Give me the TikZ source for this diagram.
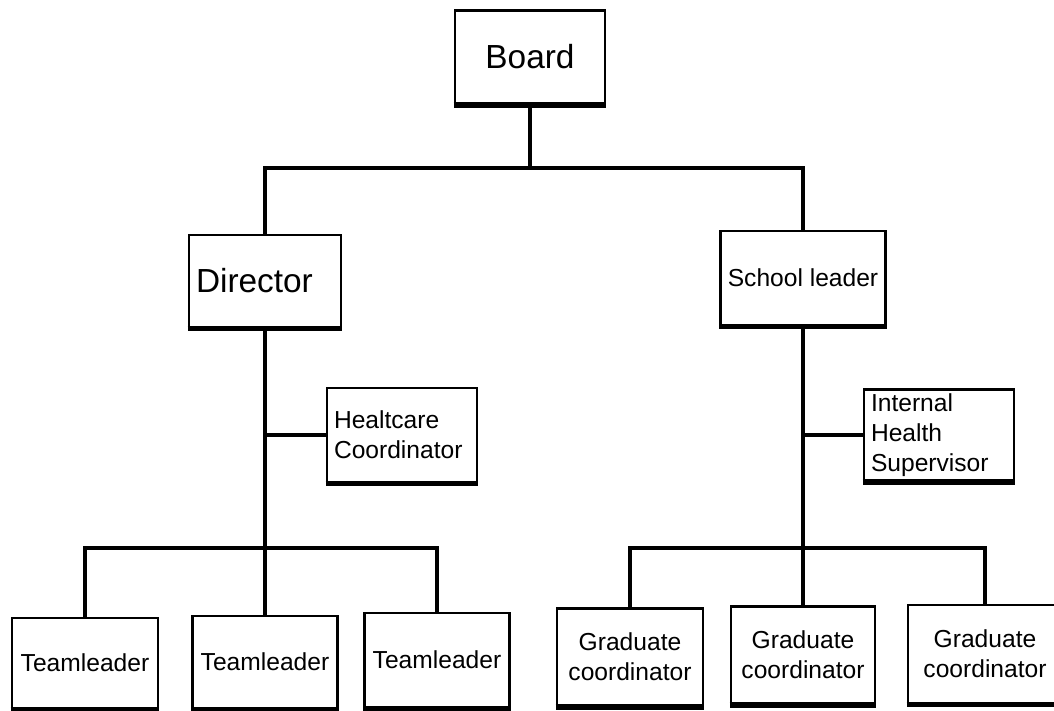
\documentclass[tikz,border=0pt]{standalone}
\usepackage{fontspec}
\setmainfont{Liberation Sans}
\usetikzlibrary{positioning}

\begin{document}
\begin{tikzpicture}[x=0.02cm, y=-0.02cm, font=\fontsize{14}{17}\selectfont]
\tikzstyle{box} = [draw=black, rectangle, line width=1.6pt, inner xsep=4pt, inner ysep=2pt, fill=white]
\tikzstyle{big} = [font=\fontsize{19}{22}\selectfont]
\tikzstyle{line} = [draw=black, line width=1.8pt]

\useasboundingbox (0,0) rectangle (1054,710);

\node[box, big, minimum width=3.00cm, minimum height=1.86cm]			at (530, 57)	(board)		{Board};
\node[box, big, minimum height=1.84cm, text width=2.76cm, align=left]	at (265, 281)	(director)	{Director};
\node[box, minimum width=2.98cm, minimum height=1.88cm]				at (803, 278)	(school)	{School leader};
\node[box, minimum height=1.88cm, text width=2.72cm, align=left]		at (402, 435)	(hc)		{Healtcare\\Coordinator};
\node[box, minimum height=1.82cm, text width=2.72cm, align=left]		at (939, 435)	(ihs)		{Internal\\Health\\Supervisor};
\node[box, minimum width=2.92cm, minimum height=1.80cm]				at (85, 663)	(tl1)		{Teamleader};
\node[box, minimum width=2.90cm, minimum height=1.84cm]				at (265, 662)	(tl2)		{Teamleader};
\node[box, minimum width=2.90cm, minimum height=1.88cm]				at (437, 660)	(tl3)		{Teamleader};
\node[box, minimum width=2.92cm, minimum height=1.94cm, align=center]	at (630, 657)	(gr1)		{Graduate\\coordinator};
\node[box, minimum width=2.88cm, minimum height=1.94cm, align=center]	at (803, 655)	(gr2)		{Graduate\\coordinator};
\node[box, minimum width=3.08cm, minimum height=1.96cm, align=center]	at (985, 654)	(gr3)		{Graduate\\coordinator};

\foreach \n in {board, director, school, hc, ihs, tl1, tl2, tl3, gr1, gr2, gr3}
	\draw[line width=3.2pt] (\n.south west) -- (\n.south east);

\coordinate (top)	at (530, 168);
\coordinate (lmid)	at (265, 548);
\coordinate (rmid)	at (803, 548);

\draw[line] (board.south) -- (top);
\draw[line] (director.north) |- (top) -| (school.north);
\draw[line] (director.south) -- (lmid);
\draw[line] (school.south) -- (rmid);
\draw[line] (hc.west) -- (hc.west -| lmid);
\draw[line] (ihs.west) -- (ihs.west -| rmid);
\draw[line] (tl1.north) |- (lmid) -| (tl3.north);
\draw[line] (tl2.north) -- (lmid);
\draw[line] (gr1.north) |- (rmid) -| (gr3.north);
\draw[line] (gr2.north) -- (rmid);
\end{tikzpicture}
\end{document}
